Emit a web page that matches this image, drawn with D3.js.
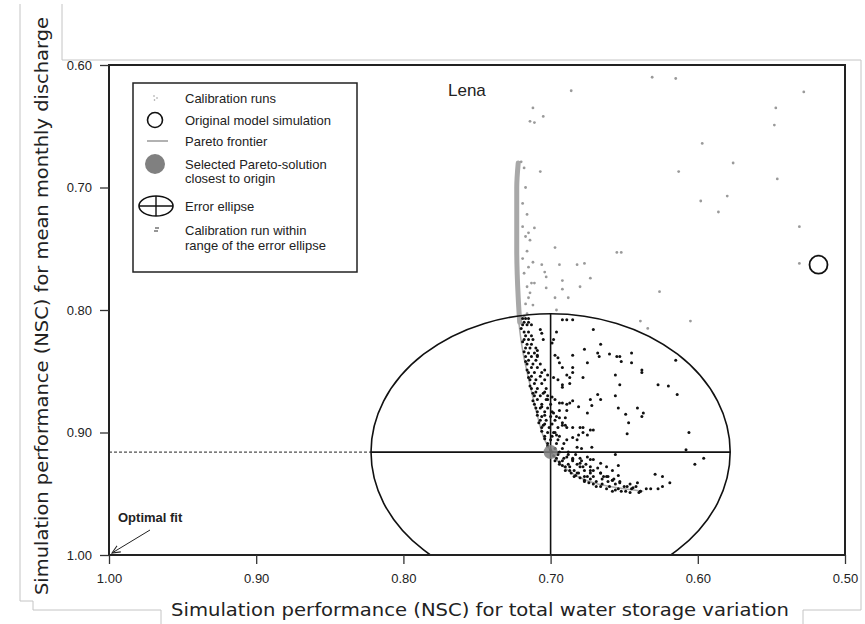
<!DOCTYPE html>
<html>
<head>
<meta charset="utf-8">
<script src="https://cdn.jsdelivr.net/npm/d3@7"></script>
<style>
  body { margin: 0; background: #fff; }
  text { font-family: "Liberation Sans", Arial, sans-serif; fill: #222; }
  .title { font-family: "DejaVu Sans Condensed", "DejaVu Sans", sans-serif; font-size: 18px; }
</style>
</head>
<body>
<div id="chart"></div>
<script>
const width = 865;
const height = 624;

// ticks
const xTicks = [1.0, 0.9, 0.8, 0.7, 0.6, 0.5];
const yTicks = [0.6, 0.7, 0.8, 0.9, 1.0];

// calibration runs outside the error ellipse range (grey)
const grayRuns = [
  [0.631,0.610],[0.615,0.611],[0.686,0.621],[0.528,0.622],[0.712,0.635],[0.547,0.635],
  [0.714,0.646],[0.711,0.647],[0.705,0.642],[0.548,0.649],[0.597,0.664],[0.576,0.680],
  [0.613,0.687],[0.707,0.687],[0.546,0.693],[0.598,0.711],[0.580,0.707],[0.586,0.720],
  [0.711,0.733],[0.531,0.732],[0.697,0.749],[0.655,0.753],[0.652,0.753],[0.531,0.762],
  [0.712,0.761],[0.706,0.763],[0.694,0.763],[0.682,0.763],[0.677,0.762],[0.703,0.773],
  [0.692,0.776],[0.673,0.774],[0.680,0.781],[0.703,0.782],[0.692,0.783],[0.626,0.785],
  [0.697,0.790],[0.688,0.790],[0.696,0.800],[0.639,0.809],[0.634,0.815],[0.605,0.809],
  [0.719,0.713],[0.719,0.732],[0.717,0.740],[0.715,0.737],[0.714,0.743],[0.715,0.765],
  [0.713,0.778],[0.714,0.786],[0.712,0.796],[0.716,0.781],[0.704,0.769],[0.711,0.778],
  [0.720,0.679],[0.718,0.684],[0.717,0.700],[0.716,0.722],[0.716,0.752],[0.715,0.790],
  [0.718,0.805],[0.716,0.803],[0.717,0.795],[0.718,0.770],[0.719,0.758]
];

// calibration runs within range of the error ellipse (black)
const blackRuns = [
  [0.692,0.808],[0.689,0.808],[0.685,0.808],[0.671,0.816],[0.666,0.828],[0.677,0.832],
  [0.660,0.836],[0.655,0.838],[0.653,0.838],[0.645,0.835],[0.645,0.843],[0.652,0.842],
  [0.668,0.835],[0.667,0.838],[0.675,0.843],[0.685,0.837],[0.685,0.847],[0.685,0.851],
  [0.689,0.853],[0.687,0.855],[0.638,0.849],[0.638,0.851],[0.656,0.853],[0.653,0.861],
  [0.678,0.855],[0.692,0.861],[0.687,0.860],[0.627,0.861],[0.620,0.862],[0.614,0.869],
  [0.615,0.841],[0.668,0.869],[0.666,0.873],[0.673,0.873],[0.656,0.870],[0.685,0.874],
  [0.681,0.879],[0.692,0.876],[0.689,0.877],[0.687,0.876],[0.694,0.882],[0.689,0.882],
  [0.675,0.884],[0.672,0.878],[0.654,0.880],[0.641,0.880],[0.637,0.884],[0.638,0.887],
  [0.649,0.885],[0.647,0.892],[0.648,0.901],[0.694,0.888],[0.690,0.888],[0.685,0.896],
  [0.680,0.896],[0.678,0.896],[0.692,0.894],[0.689,0.896],[0.673,0.898],[0.671,0.898],
  [0.681,0.902],[0.678,0.900],[0.675,0.902],[0.685,0.904],[0.682,0.906],[0.672,0.912],
  [0.682,0.912],[0.679,0.913],[0.606,0.900],[0.608,0.914],[0.596,0.921],[0.602,0.926],
  [0.656,0.918],[0.654,0.927],[0.629,0.934],[0.624,0.936],[0.619,0.941],[0.632,0.946],
  [0.627,0.946],[0.624,0.944],[0.641,0.941],[0.658,0.931],[0.654,0.935],[0.671,0.922],
  [0.666,0.925],[0.675,0.920],[0.673,0.922],[0.662,0.928],[0.661,0.936],[0.658,0.939],
  [0.696,0.818],[0.698,0.824],[0.699,0.827],[0.697,0.837],[0.695,0.839],[0.694,0.843],
  [0.692,0.847],[0.698,0.855],[0.695,0.857],[0.692,0.863],[0.699,0.871],[0.697,0.873],
  [0.694,0.876],[0.698,0.884],[0.696,0.887],[0.692,0.892],[0.690,0.894],[0.698,0.900],
  [0.696,0.902],[0.689,0.906],[0.707,0.816],[0.706,0.819],[0.705,0.824],[0.709,0.833],
  [0.709,0.837],[0.704,0.849],[0.702,0.853],[0.705,0.868],[0.702,0.873],[0.706,0.879],
  [0.704,0.886],[0.705,0.894],[0.689,0.920],[0.685,0.922],[0.680,0.925],[0.678,0.928],
  [0.673,0.931],[0.668,0.929],[0.662,0.936],[0.658,0.939],[0.653,0.941],[0.666,0.933],
  [0.648,0.944],[0.644,0.945],[0.639,0.948],[0.682,0.933],[0.675,0.936],
  // dense band along the frontier
  [0.719,0.807],[0.717,0.807],[0.715,0.807],[0.719,0.812],[0.716,0.812],[0.713,0.812],
  [0.718,0.818],[0.715,0.818],[0.718,0.824],[0.715,0.824],[0.712,0.824],[0.717,0.831],
  [0.714,0.831],[0.710,0.831],[0.717,0.838],[0.713,0.838],[0.709,0.838],[0.716,0.844],
  [0.712,0.844],[0.707,0.844],[0.715,0.851],[0.711,0.851],[0.706,0.851],[0.714,0.857],
  [0.710,0.857],[0.704,0.857],[0.713,0.864],[0.709,0.864],[0.703,0.864],[0.711,0.870],
  [0.707,0.870],[0.702,0.870],[0.711,0.877],[0.706,0.877],[0.700,0.877],[0.709,0.883],
  [0.704,0.883],[0.699,0.883],[0.707,0.890],[0.703,0.890],[0.697,0.890],[0.706,0.896],
  [0.701,0.896],[0.695,0.896],[0.704,0.903],[0.699,0.903],[0.694,0.903],[0.702,0.909],
  [0.696,0.909],[0.691,0.909],[0.699,0.916],[0.694,0.916],[0.688,0.916],[0.696,0.921],
  [0.691,0.921],[0.685,0.921],[0.680,0.921],[0.694,0.926],[0.688,0.926],[0.682,0.926],
  [0.676,0.926],[0.690,0.931],[0.684,0.931],[0.677,0.931],[0.671,0.931],[0.684,0.936],
  [0.677,0.936],[0.671,0.936],[0.664,0.936],[0.677,0.940],[0.669,0.940],[0.661,0.940],
  [0.653,0.940],[0.669,0.944],[0.660,0.944],[0.650,0.944],[0.642,0.944],[0.658,0.948],
  [0.649,0.948],[0.639,0.948],
  [0.718,0.810],[0.715,0.810],[0.717,0.821],[0.713,0.821],[0.716,0.828],[0.713,0.828],
  [0.715,0.835],[0.711,0.835],[0.715,0.841],[0.710,0.841],[0.713,0.847],[0.709,0.847],
  [0.713,0.854],[0.707,0.854],[0.711,0.860],[0.706,0.860],[0.710,0.867],[0.704,0.867],
  [0.709,0.873],[0.703,0.873],[0.707,0.880],[0.702,0.880],[0.706,0.887],[0.700,0.887],
  [0.704,0.893],[0.699,0.893],[0.702,0.900],[0.697,0.900],[0.700,0.906],[0.695,0.906],
  [0.697,0.913],[0.692,0.913],[0.695,0.918],[0.688,0.918],[0.683,0.918],[0.692,0.923],
  [0.685,0.923],[0.679,0.923],[0.687,0.928],[0.680,0.928],[0.673,0.928],[0.681,0.933],
  [0.673,0.933],[0.666,0.933],[0.673,0.938],[0.665,0.938],[0.657,0.938],[0.665,0.942],
  [0.656,0.942],[0.646,0.942],[0.654,0.946],[0.645,0.946],[0.635,0.946],
  [0.720,0.815],[0.719,0.826],[0.718,0.834],[0.717,0.842],[0.716,0.849],[0.715,0.855],
  [0.714,0.862],[0.712,0.868],[0.712,0.874],[0.710,0.880],[0.709,0.886],[0.708,0.892],
  [0.706,0.899],[0.704,0.905],[0.702,0.911],[0.700,0.914],[0.698,0.919],[0.694,0.924],
  [0.690,0.928],[0.686,0.933],[0.680,0.937],[0.674,0.941],[0.666,0.944],[0.656,0.947],
  [0.646,0.949],[0.640,0.949],[0.697,0.923],[0.692,0.927],[0.687,0.931],[0.683,0.935],
  [0.677,0.939],[0.671,0.942],[0.662,0.946],[0.652,0.948]
];

// Pareto frontier
const paretoFront = [
  [0.722,0.680],[0.723,0.751],[0.722,0.802],[0.719,0.833],[0.714,0.861],[0.709,0.886],
  [0.704,0.906],[0.699,0.917],[0.693,0.926],[0.683,0.935],[0.668,0.942],[0.650,0.946],
  [0.637,0.948]
];
// part of the frontier crowded with grey runs above the ellipse
const frontierBand = [[0.722,0.680],[0.723,0.700],[0.723,0.751],[0.722,0.790],[0.721,0.810]];

const originalRun = [0.518, 0.763];
const selectedRun = [0.700, 0.916];
const ellipseHalfX = 0.122;
const ellipseHalfY = 0.113;

const legendItems = ['Calibration runs', 'Original model simulation', 'Pareto frontier',
  'Selected Pareto-solution', 'closest to origin', 'Error ellipse',
  'Calibration run within', 'range of the error ellipse'];

const margin = {left: 109, top: 65, right: 845, bottom: 555};

const x = d3.scaleLinear().domain([1.0, 0.5]).range([margin.left, margin.right]);
const y = d3.scaleLinear().domain([0.6, 1.0]).range([margin.top, margin.bottom]);

const svg = d3.select('#chart')
  .append('svg')
  .attr('width', width)
  .attr('height', height);

svg.append('rect').attr('width', width).attr('height', height).attr('fill', '#fff');

// light grey frame lines of the original figure
svg.append('path')
  .attr('d', 'M62,4 L62,60 L861,60 L861,610 L803,610 L803,624')
  .attr('fill', 'none').attr('stroke', '#c4c4c4');
svg.append('path')
  .attr('d', 'M20,4 L20,601 L33,601 L33,610 L161,610 L161,624')
  .attr('fill', 'none').attr('stroke', '#c4c4c4');

svg.append('clipPath').attr('id', 'plotclip')
  .append('rect')
  .attr('x', margin.left).attr('y', margin.top)
  .attr('width', margin.right - margin.left).attr('height', margin.bottom - margin.top);

const plot = svg.append('g').attr('clip-path', 'url(#plotclip)');

// dashed line from the axis to the ellipse
plot.append('line')
  .attr('x1', x(1.0)).attr('x2', x(selectedRun[0] + ellipseHalfX))
  .attr('y1', y(selectedRun[1])).attr('y2', y(selectedRun[1]))
  .attr('stroke', '#222').attr('stroke-width', 1).attr('stroke-dasharray', '3,2');

// Pareto frontier
const frontLine = d3.line().x(d => x(d[0])).y(d => y(d[1])).curve(d3.curveMonotoneY);
plot.append('path')
  .datum(paretoFront)
  .attr('d', frontLine)
  .attr('fill', 'none').attr('stroke', '#a8a8a8').attr('stroke-width', 1.5);
plot.append('path')
  .datum(frontierBand)
  .attr('d', frontLine)
  .attr('fill', 'none').attr('stroke', '#a8a8a8').attr('stroke-width', 5)
  .attr('stroke-linecap', 'round');

plot.selectAll('.gray').data(grayRuns).enter()
  .append('circle').attr('class', 'gray')
  .attr('cx', d => x(d[0])).attr('cy', d => y(d[1])).attr('r', 1.4)
  .attr('fill', '#9a9a9a');

// error ellipse and cross
const cx = x(selectedRun[0]), cy = y(selectedRun[1]);
const rx = x(selectedRun[0] - ellipseHalfX) - cx;
const ry = y(selectedRun[1]) - y(selectedRun[1] - ellipseHalfY);
plot.append('ellipse')
  .attr('cx', cx).attr('cy', cy).attr('rx', rx).attr('ry', ry)
  .attr('fill', 'none').attr('stroke', '#111').attr('stroke-width', 1.6);
plot.append('line')
  .attr('x1', cx - rx).attr('x2', cx + rx).attr('y1', cy).attr('y2', cy)
  .attr('stroke', '#111').attr('stroke-width', 1.6);
plot.append('line')
  .attr('x1', cx).attr('x2', cx).attr('y1', cy - ry).attr('y2', y(1.0))
  .attr('stroke', '#111').attr('stroke-width', 1.6);

plot.selectAll('.black').data(blackRuns).enter()
  .append('circle').attr('class', 'black')
  .attr('cx', d => x(d[0])).attr('cy', d => y(d[1])).attr('r', 1.5)
  .attr('fill', '#111');

plot.append('circle')
  .attr('cx', x(selectedRun[0])).attr('cy', y(selectedRun[1])).attr('r', 7)
  .attr('fill', '#808080').attr('opacity', 0.85);

plot.append('circle')
  .attr('cx', x(originalRun[0])).attr('cy', y(originalRun[1])).attr('r', 9)
  .attr('fill', 'none').attr('stroke', '#111').attr('stroke-width', 1.8);

// frame
svg.append('rect')
  .attr('x', margin.left).attr('y', margin.top)
  .attr('width', margin.right - margin.left).attr('height', margin.bottom - margin.top)
  .attr('fill', 'none').attr('stroke', '#222').attr('stroke-width', 2);

// axes
const xAxis = svg.append('g')
  .attr('transform', `translate(0,${margin.bottom})`)
  .call(d3.axisBottom(x).tickValues(xTicks).tickFormat(d3.format('.2f')).tickSize(9).tickPadding(10));
const yAxis = svg.append('g')
  .attr('transform', `translate(${margin.left},0)`)
  .call(d3.axisLeft(y).tickValues(yTicks).tickFormat(d3.format('.2f')).tickSize(9).tickPadding(8));
[xAxis, yAxis].forEach(a => {
  a.select('.domain').remove();
  a.selectAll('line').attr('stroke', '#333').attr('stroke-width', 1.3);
  a.selectAll('text').style('font-size', '13px').style('font-family', '"Liberation Sans", Arial, sans-serif').attr('fill', '#333');
});

// titles
svg.append('text').attr('class', 'title')
  .attr('x', 480).attr('y', 616).attr('text-anchor', 'middle')
  .attr('textLength', 618).attr('lengthAdjust', 'spacingAndGlyphs')
  .text('Simulation performance (NSC) for total water storage variation');
svg.append('text').attr('class', 'title')
  .attr('transform', 'translate(48,306) rotate(-90)').attr('text-anchor', 'middle')
  .attr('textLength', 578).attr('lengthAdjust', 'spacingAndGlyphs')
  .text('Simulation performance (NSC) for mean monthly discharge');

svg.append('text').attr('x', 448).attr('y', 96).style('font-size', '17px').text('Lena');

// optimal fit annotation
svg.append('defs').append('marker')
  .attr('id', 'arrow').attr('viewBox', '0 0 10 10').attr('refX', 9).attr('refY', 5)
  .attr('markerWidth', 9).attr('markerHeight', 9).attr('orient', 'auto')
  .append('path').attr('d', 'M0,1 L9,5 L0,9').attr('fill', 'none').attr('stroke', '#222').attr('stroke-width', 1.2);
svg.append('line')
  .attr('x1', 150).attr('y1', 530).attr('x2', x(1.0) + 3).attr('y2', y(1.0) - 2)
  .attr('stroke', '#222').attr('stroke-width', 1).attr('marker-end', 'url(#arrow)');
svg.append('text').attr('x', 118).attr('y', 522)
  .style('font-size', '13px').style('font-weight', 'bold').text('Optimal fit');

// legend
const legend = svg.append('g');
legend.append('rect')
  .attr('x', 133).attr('y', 83).attr('width', 224).attr('height', 189)
  .attr('fill', '#fff').attr('stroke', '#222').attr('stroke-width', 1.5);

const legendY = [98, 120, 141, 164, 178, 206, 230, 245];
legend.selectAll('text').data(legendItems).enter()
  .append('text')
  .attr('x', 185).attr('y', (d, i) => legendY[i]).attr('dy', '0.35em')
  .style('font-size', '13px').text(d => d);

legend.selectAll('.lg').data([[154, 96], [154.5, 100], [157, 98]]).enter()
  .append('circle').attr('class', 'lg')
  .attr('cx', d => d[0]).attr('cy', d => d[1]).attr('r', 0.8).attr('fill', '#999');
legend.append('circle').attr('cx', 155).attr('cy', 120).attr('r', 7.5)
  .attr('fill', 'none').attr('stroke', '#111').attr('stroke-width', 1.6);
legend.append('line').attr('x1', 147).attr('x2', 168).attr('y1', 141).attr('y2', 141)
  .attr('stroke', '#999').attr('stroke-width', 1.5);
legend.append('circle').attr('cx', 155).attr('cy', 164).attr('r', 10).attr('fill', '#808080');
legend.append('ellipse').attr('cx', 156).attr('cy', 206).attr('rx', 17).attr('ry', 10)
  .attr('fill', 'none').attr('stroke', '#111').attr('stroke-width', 1.6);
legend.append('line').attr('x1', 139).attr('x2', 173).attr('y1', 206).attr('y2', 206)
  .attr('stroke', '#111').attr('stroke-width', 1.4);
legend.append('line').attr('x1', 156).attr('x2', 156).attr('y1', 196).attr('y2', 216)
  .attr('stroke', '#111').attr('stroke-width', 1.4);
legend.selectAll('.lb').data([[156, 228], [158, 228], [155, 231], [157, 231]]).enter()
  .append('circle').attr('class', 'lb')
  .attr('cx', d => d[0]).attr('cy', d => d[1]).attr('r', 0.8).attr('fill', '#111');
</script>
</body>
</html>
